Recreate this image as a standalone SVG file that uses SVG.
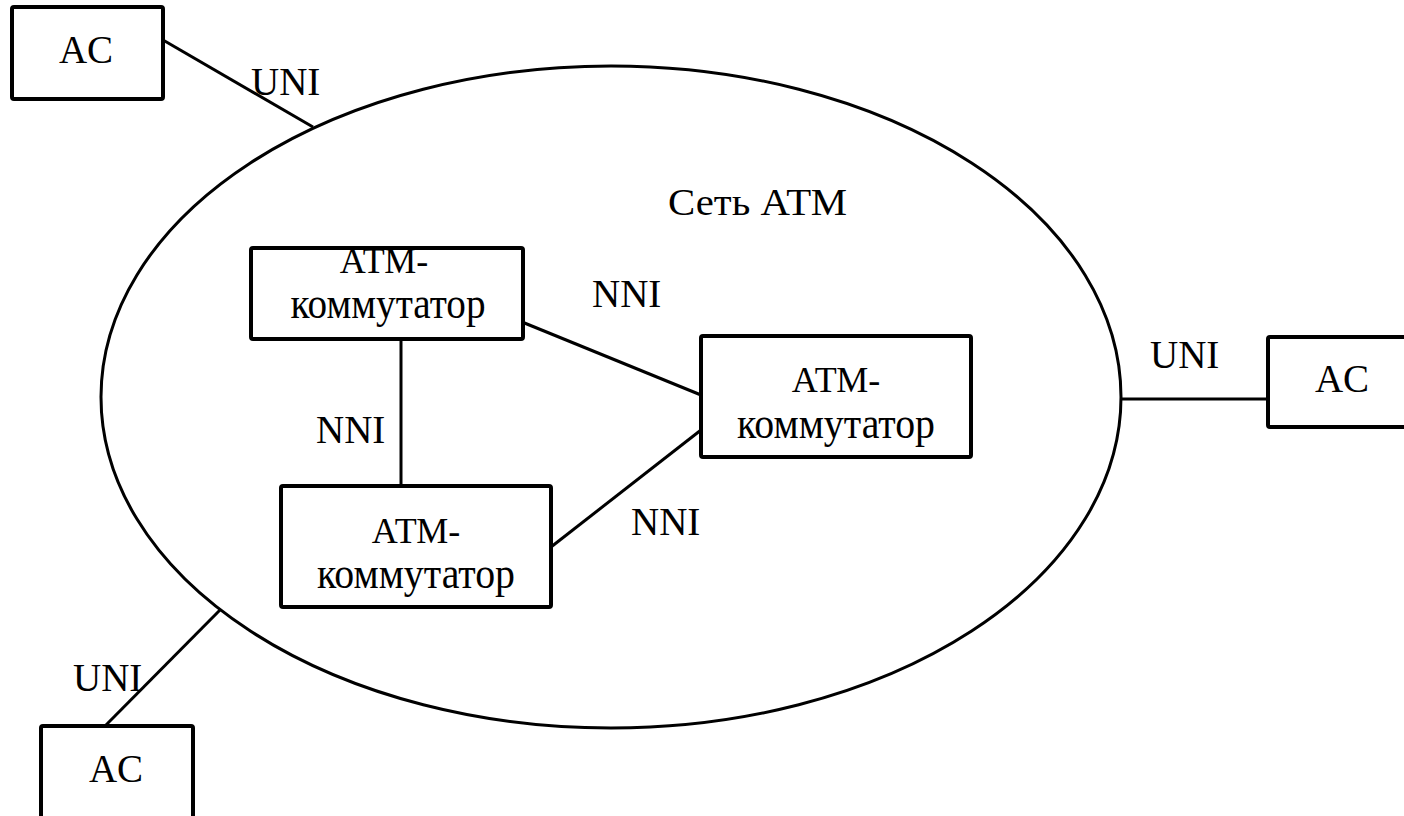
<svg xmlns="http://www.w3.org/2000/svg" width="1404" height="816" viewBox="0 0 1404 816">
  <rect width="1404" height="816" fill="#fff"/>

  <!-- ATM network boundary -->
  <g id="atm-network">
    <ellipse cx="611" cy="397" rx="510" ry="331" fill="none" stroke="#000" stroke-width="3"/>
    <text x="668" y="215" font-family="Liberation Serif, serif" font-size="37" textLength="179" lengthAdjust="spacingAndGlyphs">Сеть АТМ</text>
  </g>

  <!-- connectors -->
  <g id="connectors" stroke="#000" stroke-width="3" fill="none">
    <line x1="163" y1="40" x2="313" y2="127"/>
    <line x1="1121" y1="399" x2="1268" y2="399"/>
    <line x1="105" y1="726" x2="220" y2="610"/>
    <line x1="401" y1="339" x2="401" y2="486"/>
    <line x1="522" y1="322" x2="701" y2="395"/>
    <line x1="551" y1="547" x2="701" y2="430"/>
  </g>

  <!-- interface labels -->
  <g id="labels">
    <text x="251" y="95" font-family="Liberation Serif, serif" font-size="39">UNI</text>
    <text x="1150" y="368" font-family="Liberation Serif, serif" font-size="39">UNI</text>
    <text x="73" y="691" font-family="Liberation Serif, serif" font-size="39">UNI</text>
    <text x="592" y="307" font-family="Liberation Serif, serif" font-size="39">NNI</text>
    <text x="316" y="443" font-family="Liberation Serif, serif" font-size="39">NNI</text>
    <text x="631" y="535" font-family="Liberation Serif, serif" font-size="39">NNI</text>
  </g>

  <!-- end stations -->
  <g id="ac-top">
    <rect x="12" y="7" width="151" height="92" rx="2" fill="#fff" stroke="#000" stroke-width="4"/>
    <text x="86" y="63" text-anchor="middle" font-family="Liberation Serif, serif" font-size="39">AC</text>
  </g>
  <g id="ac-right">
    <rect x="1268" y="337" width="150" height="90" rx="2" fill="#fff" stroke="#000" stroke-width="4"/>
    <text x="1342" y="392" text-anchor="middle" font-family="Liberation Serif, serif" font-size="39">AC</text>
  </g>
  <g id="ac-bottom">
    <rect x="41" y="726" width="152" height="100" rx="2" fill="#fff" stroke="#000" stroke-width="4"/>
    <text x="116" y="782" text-anchor="middle" font-family="Liberation Serif, serif" font-size="39">AC</text>
  </g>

  <!-- ATM switches -->
  <g id="switch-1">
    <rect x="251" y="248" width="272" height="91" rx="2" fill="#fff" stroke="#000" stroke-width="4"/>
    <text x="384" y="273" text-anchor="middle" font-family="Liberation Serif, serif" font-size="36">АТМ-</text>
    <text x="388" y="318" text-anchor="middle" font-family="Liberation Serif, serif" font-size="45" textLength="195" lengthAdjust="spacingAndGlyphs">коммутатор</text>
  </g>
  <g id="switch-2">
    <rect x="701" y="336" width="270" height="121" rx="2" fill="#fff" stroke="#000" stroke-width="4"/>
    <text x="836" y="392" text-anchor="middle" font-family="Liberation Serif, serif" font-size="36">АТМ-</text>
    <text x="836" y="438" text-anchor="middle" font-family="Liberation Serif, serif" font-size="45" textLength="198" lengthAdjust="spacingAndGlyphs">коммутатор</text>
  </g>
  <g id="switch-3">
    <rect x="281" y="486" width="270" height="121" rx="2" fill="#fff" stroke="#000" stroke-width="4"/>
    <text x="416" y="543" text-anchor="middle" font-family="Liberation Serif, serif" font-size="36">АТМ-</text>
    <text x="416" y="588" text-anchor="middle" font-family="Liberation Serif, serif" font-size="45" textLength="198" lengthAdjust="spacingAndGlyphs">коммутатор</text>
  </g>
</svg>
